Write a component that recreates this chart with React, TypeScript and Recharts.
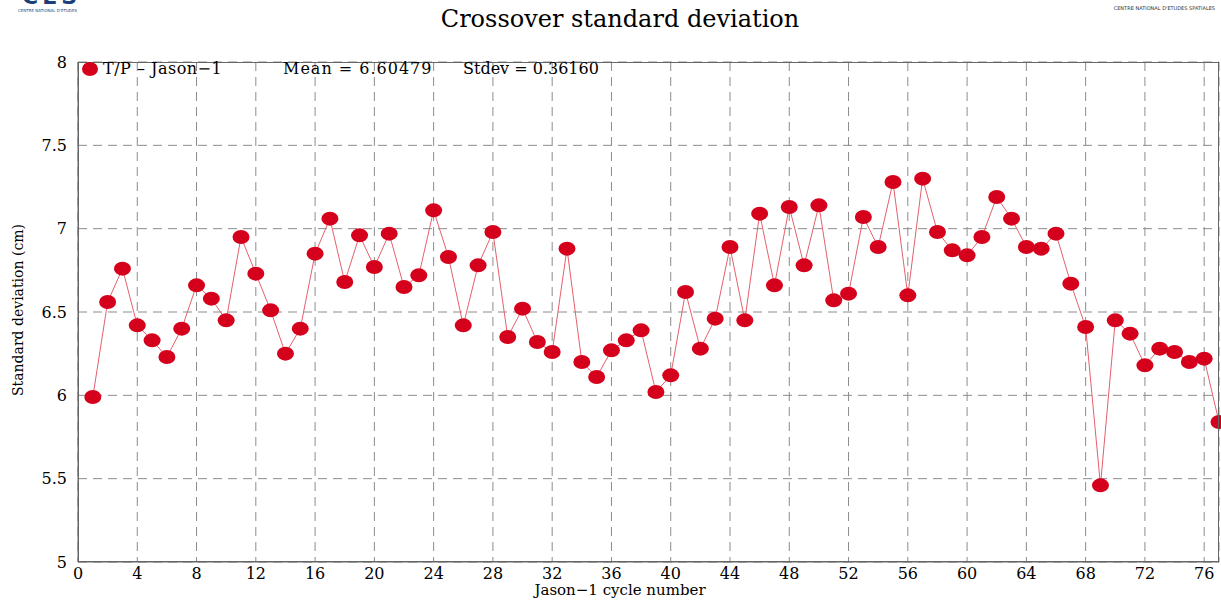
import React from "react";
import {
  LineChart,
  Line,
  XAxis,
  YAxis,
  CartesianGrid,
} from "recharts";

// Jason-1 cycle numbers and crossover standard deviation (cm)
const cycles = [
  1, 2, 3, 4, 5, 6, 7, 8, 9, 10, 11, 12, 13, 14, 15, 16, 17, 18, 19, 20,
  21, 22, 23, 24, 25, 26, 27, 28, 29, 30, 31, 32, 33, 34, 35, 36, 37, 38, 39, 40,
  41, 42, 43, 44, 45, 46, 47, 48, 49, 50, 51, 52, 53, 54, 55, 56, 57, 58, 59, 60,
  61, 62, 63, 64, 65, 66, 67, 68, 69, 70, 71, 72, 73, 74, 75, 76, 77,
];
const stdevValues = [
  5.99, 6.56, 6.76, 6.42, 6.33, 6.23, 6.4, 6.66, 6.58, 6.45, 6.95, 6.73, 6.51, 6.25, 6.4, 6.85, 7.06, 6.68, 6.96, 6.77,
  6.97, 6.65, 6.72, 7.11, 6.83, 6.42, 6.78, 6.98, 6.35, 6.52, 6.32, 6.26, 6.88, 6.2, 6.11, 6.27, 6.33, 6.39, 6.02, 6.12,
  6.62, 6.28, 6.46, 6.89, 6.45, 7.09, 6.66, 7.13, 6.78, 7.14, 6.57, 6.61, 7.07, 6.89, 7.28, 6.6, 7.3, 6.98, 6.87, 6.84,
  6.95, 7.19, 7.06, 6.89, 6.88, 6.97, 6.67, 6.41, 5.46, 6.45, 6.37, 6.18, 6.28, 6.26, 6.2, 6.22, 5.84,
];
const xTicks = [0, 4, 8, 12, 16, 20, 24, 28, 32, 36, 40, 44, 48, 52, 56, 60, 64, 68, 72, 76];
const yTicks = [5, 5.5, 6, 6.5, 7, 7.5, 8];

const data = cycles.map((c, i) => ({ cycle: c, value: stdevValues[i] }));

const RED = "#d5001b";
const FONT = "'DejaVu Serif', 'Liberation Serif', serif";
const SMALL = "'DejaVu Sans', sans-serif";

const Dot = (props: any) => {
  const { cx, cy } = props;
  if (cx == null || cy == null) return null;
  return <ellipse cx={cx} cy={cy} rx={8.5} ry={7} fill={RED} />;
};

export default function App() {
  return (
    <div style={{ position: "absolute", left: 0, top: 0, width: 1221, height: 600, background: "#fff", fontFamily: FONT, overflow: "hidden" }}>
      {/* logo remnants */}
      <div style={{ position: "absolute", left: 22, top: -16, fontSize: 22, fontWeight: "bold", color: "#1c3f7a", fontFamily: SMALL, letterSpacing: 4 }}>
        CES
      </div>
      <div style={{ position: "absolute", left: 18, top: 8, fontSize: 4, color: "#1c3f7a", fontFamily: SMALL }}>
        CENTRE NATIONAL D'ETUDES
      </div>
      <div style={{ position: "absolute", right: 6, top: 5, fontSize: 5, color: "#333", fontFamily: SMALL }}>
        CENTRE NATIONAL D'ETUDES SPATIALES
      </div>

      <div style={{ position: "absolute", left: 0, width: 1240, top: 5, textAlign: "center", fontSize: 24, color: "#000" }}>
        Crossover standard deviation
      </div>

      <LineChart width={1221} height={600} data={data} margin={{ top: 62, right: 2, bottom: 8, left: 30 }}>
        <CartesianGrid stroke="#8c8c8c" strokeDasharray="9 6" />
        <XAxis
          dataKey="cycle"
          type="number"
          domain={[0, 77]}
          ticks={xTicks}
          interval={0}
          height={30}
          tickLine={false}
          axisLine={{ stroke: "#666" }}
          tick={{ fill: "#000", fontSize: 16, fontFamily: FONT }}
          tickMargin={0}
        />
        <YAxis
          type="number"
          domain={[5, 8]}
          ticks={yTicks}
          interval={0}
          width={48}
          tickLine={false}
          axisLine={{ stroke: "#666" }}
          tick={{ fill: "#000", fontSize: 16, fontFamily: FONT }}
          tickMargin={5}
        />
        <Line
          dataKey="value"
          stroke="#e5606c"
          strokeWidth={1}
          dot={<Dot />}
          activeDot={false}
          isAnimationActive={false}
        />
      </LineChart>

      {/* plot frame */}
      <div style={{ position: "absolute", left: 78, top: 62, width: 1141, height: 500, border: "1px solid #666", boxSizing: "border-box", pointerEvents: "none" }} />

      {/* legend */}
      <div style={{ position: "absolute", left: 82, top: 62, width: 16, height: 14, borderRadius: "50%", background: RED }} />
      <div style={{ position: "absolute", left: 103, top: 59, fontSize: 16, letterSpacing: 0.5 }}>T/P – Jason−1</div>
      <div style={{ position: "absolute", left: 283, top: 59, fontSize: 16, letterSpacing: 1 }}>Mean = 6.60479</div>
      <div style={{ position: "absolute", left: 463, top: 59, fontSize: 16 }}>Stdev = 0.36160</div>

      {/* axis titles */}
      <div style={{ position: "absolute", left: 0, width: 1240, top: 581, textAlign: "center", fontSize: 15 }}>
        Jason−1 cycle number
      </div>
      <div
        style={{
          position: "absolute",
          left: 18,
          top: 310,
          fontSize: 14,
          whiteSpace: "nowrap",
          transform: "translate(-50%, -50%) rotate(-90deg)",
        }}
      >
        Standard deviation (cm)
      </div>
    </div>
  );
}
